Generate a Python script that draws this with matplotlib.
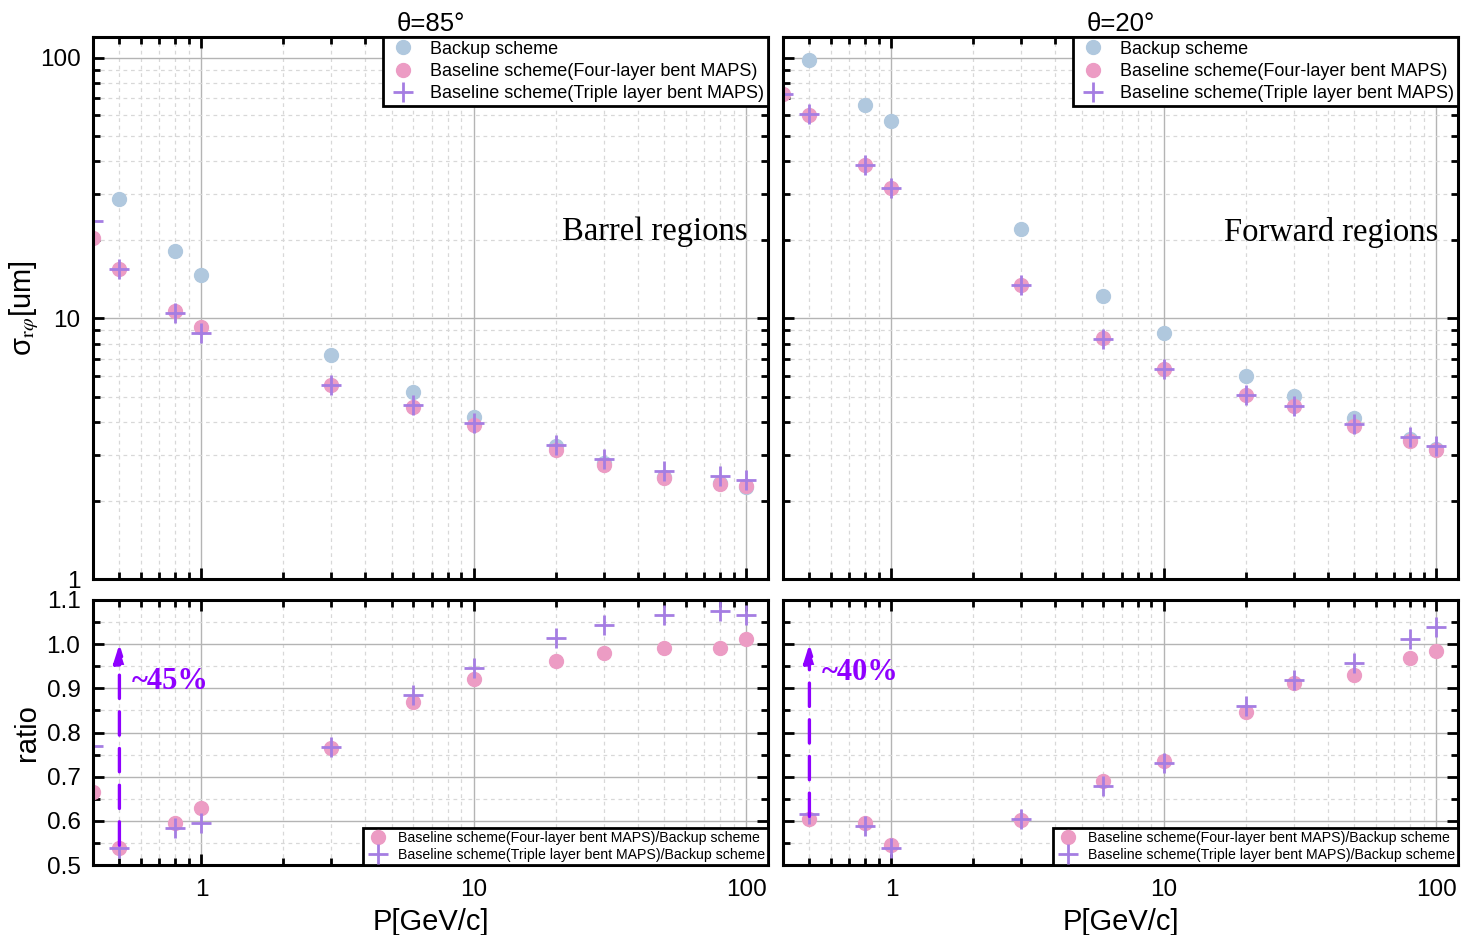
import numpy as np
import matplotlib
matplotlib.use("Agg")
import matplotlib.pyplot as plt
from matplotlib.ticker import LogLocator, NullFormatter, FixedLocator, MultipleLocator, FuncFormatter

plt.rcParams['font.family'] = ['Liberation Sans', 'DejaVu Sans']
plt.rcParams['mathtext.fontset'] = 'stix'

# momentum points
p = [0.4, 0.5, 0.8, 1, 3, 6, 10, 20, 30, 50, 80, 100]
p_backup = [0.5, 0.8, 1, 3, 6, 10, 20, 30, 50, 80, 100]

# theta = 85 deg (barrel)
backup_85 = [28.8, 18.1, 14.6, 7.21, 5.21, 4.18, 3.25, 2.79, 2.46, 2.33, 2.25]
four_85 = [20.3, 15.5, 10.7, 9.24, 5.54, 4.56, 3.89, 3.12, 2.73, 2.44, 2.31, 2.27]
triple_85 = [23.7, 15.5, 10.5, 8.77, 5.54, 4.64, 3.95, 3.26, 2.88, 2.59, 2.48, 2.39]
ratio4_85 = [0.665, 0.538, 0.595, 0.629, 0.765, 0.869, 0.921, 0.962, 0.980, 0.991, 0.991, 1.012]
ratio3_85 = [0.769, 0.538, 0.584, 0.595, 0.767, 0.885, 0.946, 1.014, 1.043, 1.066, 1.075, 1.066]

# theta = 20 deg (forward)
backup_20 = [98.0, 66.0, 57.3, 22.1, 12.2, 8.77, 6.0, 5.02, 4.14, 3.45, 3.16]
four_20 = [72.8, 60.0, 38.9, 31.5, 13.4, 8.38, 6.38, 5.07, 4.60, 3.86, 3.38, 3.12]
triple_20 = [72.8, 61.0, 38.9, 31.5, 13.4, 8.30, 6.38, 5.10, 4.62, 3.93, 3.50, 3.24]
p_ratio_20 = [0.5, 0.8, 1, 3, 6, 10, 20, 30, 50, 80, 100]
ratio4_20 = [0.605, 0.594, 0.545, 0.602, 0.691, 0.735, 0.847, 0.913, 0.930, 0.969, 0.985]
ratio3_20 = [0.615, 0.588, 0.539, 0.604, 0.679, 0.732, 0.859, 0.920, 0.957, 1.012, 1.040]

C_BLUE = '#b0c8de'
C_PINK = '#ec9cc4'
C_PURP = '#a57de2'
C_ARROW = '#8f00ff'
SERIF = ['Liberation Serif', 'DejaVu Serif']

fig = plt.figure(figsize=(14.81, 9.35), dpi=100)
W = 675 / 1481
ax_tl = fig.add_axes([93 / 1481, 1 - 579 / 935, W, 542 / 935])
ax_tr = fig.add_axes([783 / 1481, 1 - 579 / 935, W, 542 / 935])
ax_bl = fig.add_axes([93 / 1481, 1 - 865 / 935, W, 265 / 935])
ax_br = fig.add_axes([783 / 1481, 1 - 865 / 935, W, 265 / 935])


def style(ax, top):
    ax.set_xscale('log')
    ax.set_xlim(0.4, 120)
    ax.xaxis.set_major_locator(FixedLocator([1, 10, 100]))
    ax.xaxis.set_minor_locator(LogLocator(base=10, subs=np.arange(2, 10)))
    ax.xaxis.set_minor_formatter(NullFormatter())
    ax.xaxis.set_major_formatter(FuncFormatter(lambda v, _: '%g' % v))
    if top:
        ax.set_yscale('log')
        ax.set_ylim(1, 120)
        ax.yaxis.set_major_locator(FixedLocator([1, 10, 100]))
        ax.yaxis.set_minor_locator(LogLocator(base=10, subs=np.arange(2, 10)))
        ax.yaxis.set_minor_formatter(NullFormatter())
        ax.yaxis.set_major_formatter(FuncFormatter(lambda v, _: '%g' % v))
    else:
        ax.set_ylim(0.5, 1.1)
        ax.yaxis.set_major_locator(MultipleLocator(0.1))
        ax.yaxis.set_minor_locator(MultipleLocator(0.05))
        ax.yaxis.set_major_formatter(FuncFormatter(lambda v, _: '%.1f' % v))
    ax.grid(True, which='major', color='#b4b4b4', lw=1.0, ls='-')
    ax.grid(True, which='minor', color='#d8d8d8', lw=0.9, ls=(0, (3, 3)))
    ax.set_axisbelow(True)
    ax.tick_params(which='both', direction='in', top=True, right=True, width=2, labelsize=17.5)
    ax.tick_params(which='major', length=8)
    ax.tick_params(which='minor', length=5)
    ax.tick_params(axis='x', which='major', pad=10)
    ax.tick_params(axis='y', which='major', pad=9)
    for s in ax.spines.values():
        s.set_linewidth(2.2)
    if top:
        ax.tick_params(labelbottom=False)


for ax, t in [(ax_tl, True), (ax_tr, True), (ax_bl, False), (ax_br, False)]:
    style(ax, t)

ax_tr.tick_params(labelleft=False)
ax_br.tick_params(labelleft=False)

mk = dict(ls='none', clip_on=True)
legend_top = dict(loc='upper right', fontsize=13.0, frameon=True, fancybox=False,
                  edgecolor='black', framealpha=1, borderaxespad=0, handletextpad=0.55,
                  handlelength=1.9, borderpad=0.2, labelspacing=0.3)
legend_bot = dict(loc='lower right', fontsize=10.2, frameon=True, fancybox=False,
                  edgecolor='black', framealpha=1, borderaxespad=0, handletextpad=0.5,
                  handlelength=1.8, borderpad=0.2, labelspacing=0.25)

for ax, bk, f4, t3, title, region in [
        (ax_tl, backup_85, four_85, triple_85, 'θ=85°', 'Barrel regions'),
        (ax_tr, backup_20, four_20, triple_20, 'θ=20°', 'Forward regions')]:
    ax.plot(p_backup, bk, marker='o', ms=10, color=C_BLUE, label='Backup scheme', **mk)
    ax.plot(p, f4, marker='o', ms=10, color=C_PINK, label='Baseline scheme(Four-layer bent MAPS)', **mk)
    ax.plot(p, t3, marker='+', ms=14, mew=2, color=C_PURP, label='Baseline scheme(Triple layer bent MAPS)', **mk)
    leg = ax.legend(**legend_top)
    leg.get_frame().set_linewidth(2)
    ax.set_title(title, fontsize=18.5, pad=4)
    ax.text(0.97, 0.64, region, transform=ax.transAxes, ha='right', va='center',
            fontsize=23.5, family=SERIF)

for ax, px, r4, r3 in [(ax_bl, p, ratio4_85, ratio3_85), (ax_br, p_ratio_20, ratio4_20, ratio3_20)]:
    ax.plot(px, r4, marker='o', ms=10, color=C_PINK,
            label='Baseline scheme(Four-layer bent MAPS)/Backup scheme', **mk)
    ax.plot(px, r3, marker='+', ms=14, mew=2, color=C_PURP,
            label='Baseline scheme(Triple layer bent MAPS)/Backup scheme', **mk)
    leg = ax.legend(**legend_bot)
    leg.get_frame().set_linewidth(2)
    ax.set_xlabel('P[GeV/c]', fontsize=21, labelpad=5)

# improvement arrows
arrow = dict(arrowstyle='-|>,head_length=1.1,head_width=0.35', color=C_ARROW,
             lw=2.4, ls=(0, (7, 4)), shrinkA=0, shrinkB=0)
ax_bl.annotate('', xy=(0.5, 1.0), xytext=(0.5, 0.545), arrowprops=arrow)
ax_bl.text(0.555, 0.915, '~45%', color=C_ARROW, fontsize=22, fontweight='bold',
           family=SERIF, va='center')
ax_br.annotate('', xy=(0.5, 1.0), xytext=(0.5, 0.61), arrowprops=arrow)
ax_br.text(0.555, 0.935, '~40%', color=C_ARROW, fontsize=22, fontweight='bold',
           family=SERIF, va='center')

ax_tl.set_ylabel(r'σ$_{\mathrm{r}\varphi}$[um]', fontsize=21)
ax_bl.set_ylabel('ratio', fontsize=21)
ax_tl.yaxis.set_label_coords(-0.077, 0.5)
ax_bl.yaxis.set_label_coords(-0.077, 0.5)

fig.savefig('out.png', dpi=100)
